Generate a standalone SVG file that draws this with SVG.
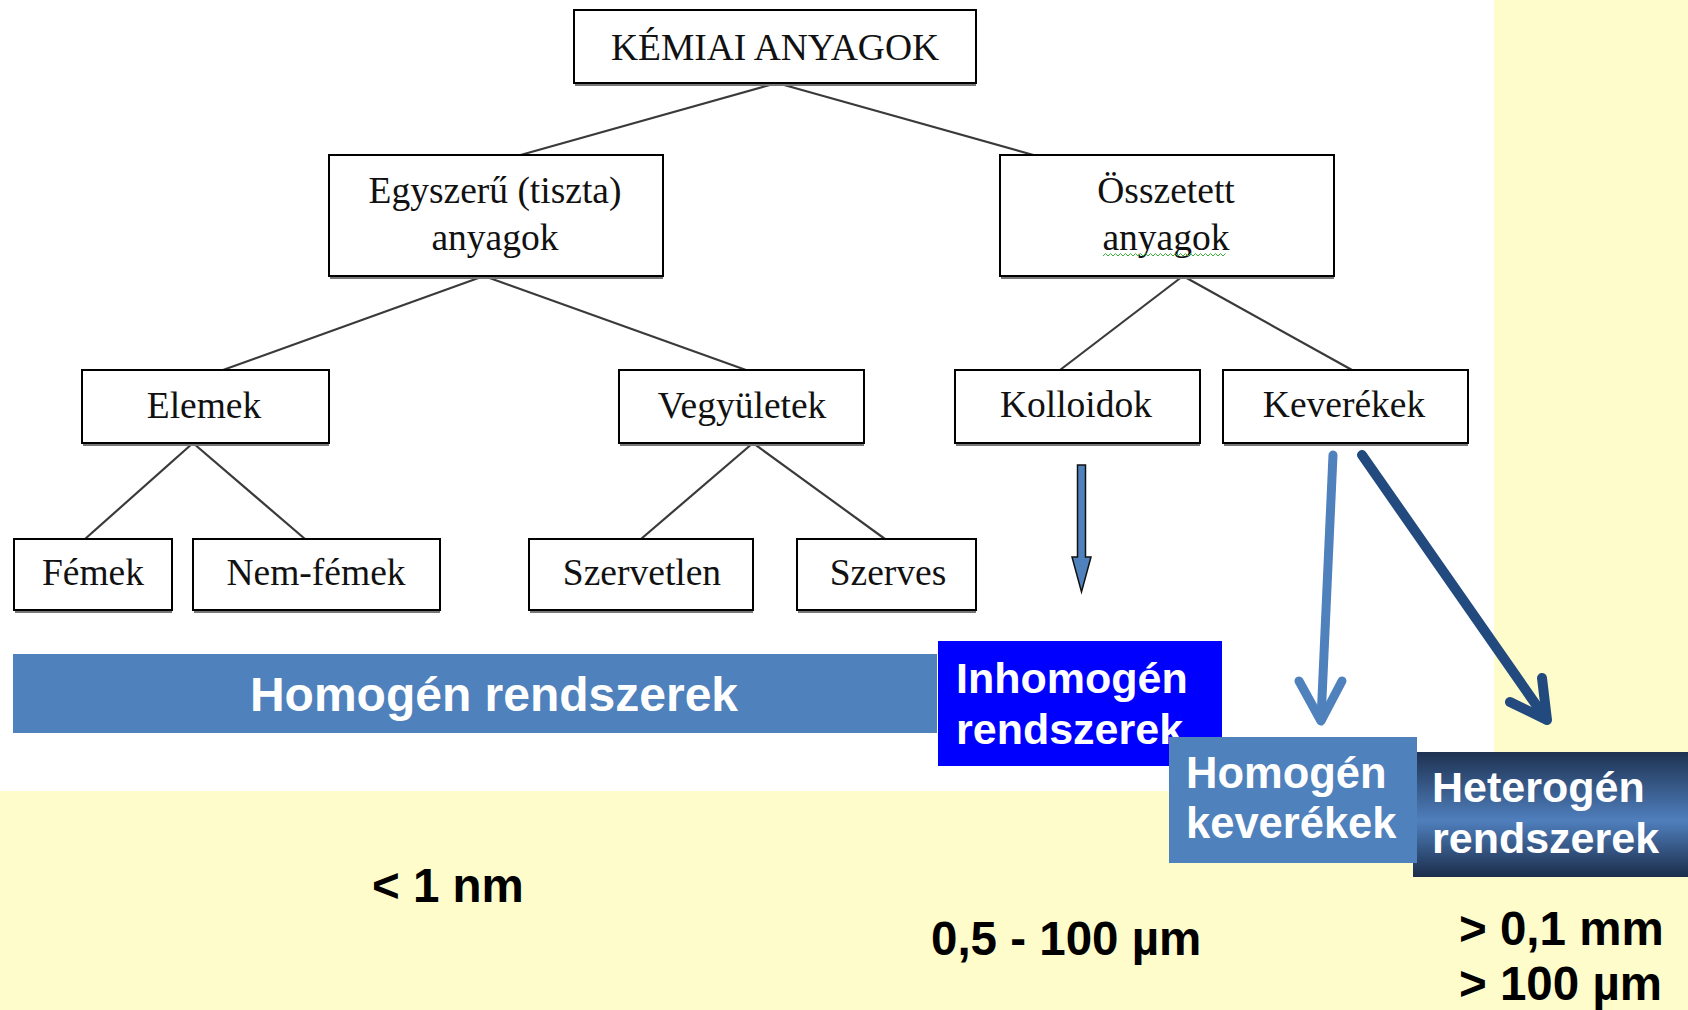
<svg xmlns="http://www.w3.org/2000/svg" width="1688" height="1010" viewBox="0 0 1688 1010">
<defs>
<style>
.box{fill:#fff;stroke:#000;stroke-width:2}
.shadow{stroke:#777;stroke-width:2;fill:none}
.nt{font-family:"Liberation Serif",serif;font-size:37.5px;fill:#111;text-anchor:middle}
.conn{stroke:#3a3a3a;stroke-width:2.2;fill:none}
.wt{font-family:"Liberation Sans",Arial,sans-serif;font-weight:bold;fill:#fff}
.bt{font-family:"Liberation Sans",Arial,sans-serif;font-weight:bold;font-size:47.5px;fill:#000}
</style>
<linearGradient id="hetgrad" x1="0" y1="0" x2="0" y2="1">
<stop offset="0" stop-color="#1e3251"/>
<stop offset="0.55" stop-color="#4f7fbd"/>
<stop offset="1" stop-color="#1b2d4a"/>
</linearGradient>
</defs>
<rect x="0" y="0" width="1688" height="1010" fill="#fffccb"/>
<rect x="0" y="0" width="1494" height="791" fill="#fff"/>

<g id="connectors">
<line class="conn" x1="777" y1="83" x2="517" y2="156"/>
<line class="conn" x1="777" y1="83" x2="1037" y2="156"/>
<line class="conn" x1="484" y1="276" x2="223" y2="370"/>
<line class="conn" x1="484" y1="276" x2="746" y2="370"/>
<line class="conn" x1="1183" y1="276" x2="1060" y2="370"/>
<line class="conn" x1="1183" y1="276" x2="1352" y2="370"/>
<line class="conn" x1="193" y1="443" x2="85" y2="539"/>
<line class="conn" x1="193" y1="443" x2="305" y2="539"/>
<line class="conn" x1="753" y1="443" x2="641" y2="539"/>
<line class="conn" x1="753" y1="443" x2="885" y2="539"/>
<path d="M1077.5 465 H1085.5 V557 H1091 L1081.5 592 L1072 557 H1077.5 Z" fill="#4f81bd" stroke="#111" stroke-width="1.5" stroke-linejoin="miter"/>
<g fill="none" stroke="#4f81bd" stroke-width="9" stroke-linecap="round" stroke-linejoin="round">
<line x1="1333" y1="455" x2="1321" y2="720"/>
<polyline points="1299,681 1321,721 1342,681"/>
</g>
<g fill="none" stroke="#224a7e" stroke-width="10" stroke-linecap="round" stroke-linejoin="round">
<line x1="1362" y1="455" x2="1546" y2="719"/>
<polyline points="1510,702 1547,720 1542,678"/>
</g>
</g>

<g id="n-kemiai">
<rect class="box" x="574" y="10" width="402" height="73"/>
<line class="shadow" x1="575" y1="85" x2="976" y2="85"/>
<text class="nt" x="775" y="60">KÉMIAI ANYAGOK</text>
</g>
<g id="n-egyszeru">
<rect class="box" x="329" y="155" width="334" height="121"/>
<line class="shadow" x1="330" y1="278" x2="663" y2="278"/>
<text class="nt" x="495" y="203">Egyszerű (tiszta)</text>
<text class="nt" x="495" y="250">anyagok</text>
</g>
<g id="n-osszetett">
<rect class="box" x="1000" y="155" width="334" height="121"/>
<line class="shadow" x1="1001" y1="278" x2="1334" y2="278"/>
<text class="nt" x="1166" y="203">Összetett</text>
<text class="nt" x="1166" y="250">anyagok</text>
<path d="M1103 256 l2.5 -2.5 l2.5 2.5 l2.5 -2.5 l2.5 2.5 l2.5 -2.5 l2.5 2.5 l2.5 -2.5 l2.5 2.5 l2.5 -2.5 l2.5 2.5 l2.5 -2.5 l2.5 2.5 l2.5 -2.5 l2.5 2.5 l2.5 -2.5 l2.5 2.5 l2.5 -2.5 l2.5 2.5 l2.5 -2.5 l2.5 2.5 l2.5 -2.5 l2.5 2.5 l2.5 -2.5 l2.5 2.5 l2.5 -2.5 l2.5 2.5 l2.5 -2.5 l2.5 2.5 l2.5 -2.5 l2.5 2.5 l2.5 -2.5 l2.5 2.5 l2.5 -2.5 l2.5 2.5 l2.5 -2.5 l2.5 2.5 l2.5 -2.5 l2.5 2.5 l2.5 -2.5 l2.5 2.5 l2.5 -2.5 l2.5 2.5 l2.5 -2.5 l2.5 2.5 l2.5 -2.5 l2.5 2.5 l2.5 -2.5 l2.5 2.5 l2.5 -2.5" fill="none" stroke="#3cae3c" stroke-width="1"/>
</g>
<g id="n-elemek">
<rect class="box" x="82" y="370" width="247" height="73"/>
<line class="shadow" x1="83" y1="445" x2="329" y2="445"/>
<text class="nt" x="204" y="418">Elemek</text>
</g>
<g id="n-vegyuletek">
<rect class="box" x="619" y="370" width="245" height="73"/>
<line class="shadow" x1="620" y1="445" x2="864" y2="445"/>
<text class="nt" x="742" y="418">Vegyületek</text>
</g>
<g id="n-kolloidok">
<rect class="box" x="955" y="370" width="245" height="73"/>
<line class="shadow" x1="956" y1="445" x2="1200" y2="445"/>
<text class="nt" x="1076" y="417">Kolloidok</text>
</g>
<g id="n-keverekek">
<rect class="box" x="1223" y="370" width="245" height="73"/>
<line class="shadow" x1="1224" y1="445" x2="1468" y2="445"/>
<text class="nt" x="1344" y="417">Keverékek</text>
</g>
<g id="n-femek">
<rect class="box" x="14" y="539" width="158" height="71"/>
<line class="shadow" x1="15" y1="612" x2="172" y2="612"/>
<text class="nt" x="93" y="585">Fémek</text>
</g>
<g id="n-nemfemek">
<rect class="box" x="193" y="539" width="247" height="71"/>
<line class="shadow" x1="194" y1="612" x2="440" y2="612"/>
<text class="nt" x="316" y="585">Nem-fémek</text>
</g>
<g id="n-szervetlen">
<rect class="box" x="529" y="539" width="224" height="71"/>
<line class="shadow" x1="530" y1="612" x2="753" y2="612"/>
<text class="nt" x="642" y="585">Szervetlen</text>
</g>
<g id="n-szerves">
<rect class="box" x="797" y="539" width="179" height="71"/>
<line class="shadow" x1="798" y1="612" x2="976" y2="612"/>
<text class="nt" x="888" y="585">Szerves</text>
</g>

<g id="n-homogen-rendszerek">
<rect x="13" y="654" width="924" height="79" fill="#4f81bd"/>
<text class="wt" x="494" y="711" font-size="48" text-anchor="middle">Homogén rendszerek</text>
</g>
<g id="n-inhomogen">
<rect x="938" y="641" width="284" height="125" fill="#0000ff"/>
<text class="wt" x="956" y="693" font-size="43">Inhomogén</text>
<text class="wt" x="956" y="744" font-size="43">rendszerek</text>
</g>
<g id="n-heterogen">
<rect x="1413" y="752" width="275" height="125" fill="url(#hetgrad)"/>
<text class="wt" x="1432" y="802" font-size="43">Heterogén</text>
<text class="wt" x="1432" y="853" font-size="43">rendszerek</text>
</g>
<g id="n-homogen-keverekek">
<rect x="1169" y="737" width="248" height="126" fill="#4f81bd"/>
<text class="wt" x="1186" y="788" font-size="43.5">Homogén</text>
<text class="wt" x="1186" y="838" font-size="43.5">keverékek</text>
</g>

<g id="sizes">
<text class="bt" x="372" y="902">&lt; 1 nm</text>
<text class="bt" x="931" y="955">0,5 - 100 µm</text>
<text class="bt" x="1459" y="945">&gt; 0,1 mm</text>
<text class="bt" x="1459" y="1000">&gt; 100 µm</text>
</g>
</svg>
